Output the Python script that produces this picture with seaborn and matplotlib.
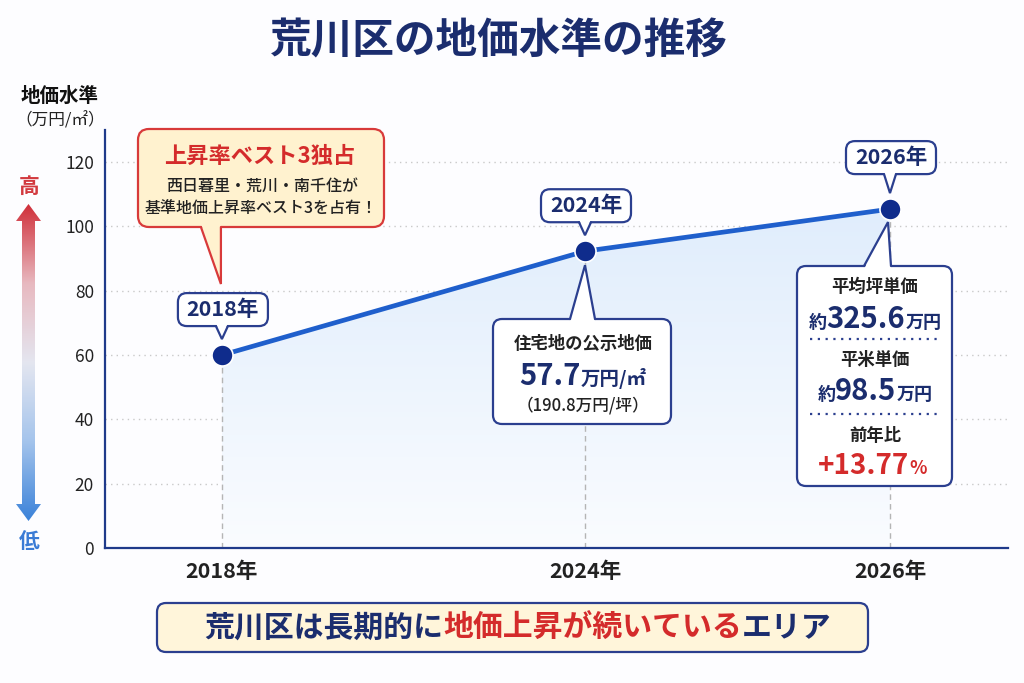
import numpy as np
import pandas as pd
import matplotlib
matplotlib.use("Agg")
import matplotlib.pyplot as plt
import seaborn as sns
from matplotlib.patches import FancyBboxPatch, Polygon
from matplotlib.transforms import Affine2D
from matplotlib.offsetbox import TextArea, HPacker, AnnotationBbox
from matplotlib.colors import LinearSegmentedColormap

# ── Data ───────────────────────────────────────────────────────────────────────
years = ["2018年", "2024年", "2026年"]
land_level = [60.0, 92.3, 105.4]
y_ticks = [0, 20, 40, 60, 80, 100, 120]

title = "荒川区の地価水準の推移"
y_label = "地価水準"
y_unit = "（万円/㎡）"
callout_title = "上昇率ベスト3独占"
callout_lines = ["西日暮里・荒川・南千住が", "基準地価上昇率ベスト3を占有！"]
info_2024 = ["住宅地の公示地価", "57.7", "万円/㎡", "（190.8万円/坪）"]
info_2026 = [("平均坪単価", "約", "325.6", "万円"),
             ("平米単価", "約", "98.5", "万円"),
             ("前年比", "+", "13.77", "%")]
banner_parts = [("荒川区は長期的に", "navy"), ("地価上昇が続いている", "red"), ("エリア", "navy")]

# ── Style ──────────────────────────────────────────────────────────────────────
sns.set_theme(style="white")
FONTS = ["Noto Sans CJK JP", "DejaVu Sans"]
plt.rcParams["font.family"] = FONTS

NAVY = "#1B2D6E"
EDGE = "#2B3F8F"
RED = "#D42B2B"
W, H = 1024, 683

fig = plt.figure(figsize=(W / 100, H / 100), dpi=100)
fig.patch.set_facecolor("#FDFDFF")
# pixel coordinates, origin top-left
tr = Affine2D().scale(1 / 100, -1 / 100).translate(0, H / 100) + fig.dpi_scale_trans

ax = fig.add_axes([105 / W, 1 - 548 / H, (1008 - 105) / W, (548 - 130) / H])
ax.set_facecolor("none")

x_pos = [0, 1, 1.84]
df = pd.DataFrame({"year": years, "pos": x_pos, "value": land_level})

# gradient fill under the line
fill = ax.fill_between(df["pos"], 0, df["value"], color="none", lw=0)
grad_cmap = LinearSegmentedColormap.from_list("fill", ["#FAFCFF", "#E0EDFC"])
grad = np.linspace(0, 1, 256).reshape(-1, 1)
im = ax.imshow(grad, extent=[x_pos[0], x_pos[-1], 0, max(land_level)], origin="lower",
               cmap=grad_cmap, aspect="auto", zorder=1)
im.set_clip_path(fill.get_paths()[0], transform=ax.transData)

ax.vlines(df["pos"], 0, df["value"], colors="#B5B5B5", linestyles=(0, (4, 3)), lw=1, zorder=1.5)

sns.lineplot(data=df, x="pos", y="value", ax=ax, color="#1F5FCC", lw=3.4, zorder=3)
sns.scatterplot(data=df, x="pos", y="value", ax=ax, s=230, color="#0F2C8C",
                edgecolor="white", linewidth=1.2, zorder=4)

ax.set_xlim(-0.322, 2.165)
ax.set_ylim(0, 130)
ax.set_xticks(x_pos)
ax.set_xticklabels(years, fontsize=15.5, fontweight="bold", color="#222222")
ax.set_yticks(y_ticks)
ax.set_yticklabels([str(v) for v in y_ticks], fontsize=12.5, color="#222222")
ax.tick_params(axis="x", length=0, pad=9)
ax.tick_params(axis="y", length=0, pad=8)
ax.set_xlabel("")
ax.set_ylabel("")
ax.yaxis.grid(True, color="#C9C9C9", linestyle=(0, (1, 3)), lw=1)
ax.set_axisbelow(True)
for side in ["top", "right"]:
    ax.spines[side].set_visible(False)
for side in ["left", "bottom"]:
    ax.spines[side].set_color("#1F3A8A")
    ax.spines[side].set_linewidth(1.6)

fig.canvas.draw()


def to_px(x, y):
    dx, dy = ax.transData.transform((x, y))
    return dx, H - dy


def txt(x, y, s, **kw):
    kw.setdefault("ha", "center")
    kw.setdefault("va", "center")
    fig.text(x, y, s, transform=tr, **kw)


def callout(x0, y0, x1, y1, tail, face="white", edge=EDGE, lw=1.6, r=9, z=6):
    box = FancyBboxPatch((x0, y0), x1 - x0, y1 - y0, boxstyle=f"round,pad=0,rounding_size={r}",
                         fc=face, ec=edge, lw=lw, transform=tr, zorder=z)
    fig.add_artist(box)
    if tail is None:
        return
    (bx0, by), (bx1, _), tip = tail
    inward = 3 if tip[1] > by else -3
    fig.add_artist(Polygon([(bx0, by - inward), (bx1, by - inward), tip], closed=True,
                           fc=face, ec="none", transform=tr, zorder=z + 0.1))
    fig.add_artist(plt.Line2D([bx0, tip[0], bx1], [by, tip[1], by], color=edge, lw=lw,
                              transform=tr, zorder=z + 0.2, solid_joinstyle="miter"))


def packed(x, y, parts, z=8):
    areas = [TextArea(s, textprops=dict(family=FONTS, **p)) for s, p in parts]
    pack = HPacker(children=areas, align="baseline", pad=0, sep=0)
    ab = AnnotationBbox(pack, (x, y), xycoords=tr, frameon=False, box_alignment=(0.5, 0.5))
    ab.set_zorder(z)
    fig.add_artist(ab)


# ── Title and axis labels ──────────────────────────────────────────────────────
txt(499, 41, title, fontsize=30, fontweight="bold", color=NAVY)
txt(60, 96, y_label, fontsize=14, fontweight="bold", color="#111111")
txt(60, 121, y_unit, fontsize=12, color="#222222")
txt(29, 186, "高", fontsize=15, fontweight="bold", color="#D23A3F")
txt(29, 541, "低", fontsize=15, fontweight="bold", color="#3A7BD5")

# gradient double arrow
arrow_ax = fig.add_axes([16 / W, 1 - 521 / H, 25 / W, 317 / H])
arrow_ax.set_xlim(0, 25)
arrow_ax.set_ylim(0, 317)
arrow_ax.axis("off")
arrow_cmap = LinearSegmentedColormap.from_list(
    "arrow", ["#3B82D9", "#A4C4EC", "#E4E6F0", "#E8B9C0", "#D0303A"])
arr_im = arrow_ax.imshow(np.linspace(0, 1, 256).reshape(-1, 1), extent=[0, 25, 0, 317],
                         origin="lower", cmap=arrow_cmap, aspect="auto")
shape = Polygon([(12.5, 317), (25, 300), (19, 300), (19, 17), (25, 17), (12.5, 0),
                 (0, 17), (6, 17), (6, 300), (0, 300)], closed=True, fc="none", ec="none")
arrow_ax.add_patch(shape)
arr_im.set_clip_path(shape)

# ── Year label boxes over the points ───────────────────────────────────────────
for (x, v, label) in zip(x_pos, land_level, years):
    px, py = to_px(x, v)
    top = py - 62 if label != "2026年" else py - 68
    bot = top + 33
    callout(px - 44, top, px + 46, bot, [(px - 6, bot), (px + 6, bot), (px, py - 16)], z=6)
    txt(px + 1, (top + bot) / 2, label, fontsize=15.5, fontweight="bold", color=NAVY, zorder=8)

# ── Red callout (2018) ─────────────────────────────────────────────────────────
p18x, p18y = to_px(x_pos[0], land_level[0])
callout(138, 129, 384, 227, [(p18x - 21, 227), (p18x - 1, 227), (p18x - 1, 284)],
        face="#FFF2CF", edge="#D83A3A", lw=1.6, r=11, z=6)
txt(260, 156, callout_title, fontsize=16, fontweight="bold", color="#D42B2B", zorder=8)
txt(262, 186, callout_lines[0], fontsize=11.5, fontweight="medium", color="#222222", zorder=8)
txt(261, 209, callout_lines[1], fontsize=11.5, fontweight="medium", color="#222222", zorder=8)

# ── 2024 info box ──────────────────────────────────────────────────────────────
p24x, p24y = to_px(x_pos[1], land_level[1])
callout(493, 319, 671, 424, [(p24x - 15, 319), (p24x + 10, 319), (p24x, p24y + 14)], z=6)
txt(583, 344, info_2024[0], fontsize=12.5, fontweight="bold", color="#222222", zorder=8)
packed(583, 376, [(info_2024[1], dict(fontsize=21, fontweight="bold", color=NAVY)),
                  (info_2024[2], dict(fontsize=14, fontweight="bold", color=NAVY))])
txt(583, 406, info_2024[3], fontsize=12, fontweight="medium", color="#222222", zorder=8)

# ── 2026 info box ──────────────────────────────────────────────────────────────
p26x, p26y = to_px(x_pos[2], land_level[2])
callout(797, 266, 952, 486, [(p26x - 26, 266), (p26x + 1, 266), (p26x - 2, p26y + 13)], z=6)
rows_y = [(287, 319), (360, 391), (436, 466)]
for (head, pre, num, unit), (hy, ny) in zip(info_2026, rows_y):
    txt(875, hy, head, fontsize=12.5, fontweight="bold", color="#222222", zorder=8)
    if pre == "+":
        packed(872, ny, [(pre + num, dict(fontsize=20, fontweight="bold", color=RED)),
                         (unit, dict(fontsize=13, fontweight="bold", color=RED))])
    else:
        packed(875, ny, [(pre, dict(fontsize=13, fontweight="bold", color=NAVY)),
                         (num, dict(fontsize=21, fontweight="bold", color=NAVY)),
                         (unit, dict(fontsize=13, fontweight="bold", color=NAVY))])
for sy in [339, 414]:
    fig.add_artist(plt.Line2D([810, 939], [sy, sy], color=EDGE, lw=1.6,
                              linestyle=(0, (1, 2.5)), transform=tr, zorder=8))

# ── Bottom banner ──────────────────────────────────────────────────────────────
callout(157, 603, 868, 652, None, face="#FFF5DA", edge=EDGE, lw=1.6, r=9, z=6)
colors = {"navy": NAVY, "red": "#D42B2B"}
packed(518, 628, [(s, dict(fontsize=21.5, fontweight="bold", color=colors[c])) for s, c in banner_parts])

fig.savefig("out.png", dpi=100, facecolor=fig.get_facecolor())
